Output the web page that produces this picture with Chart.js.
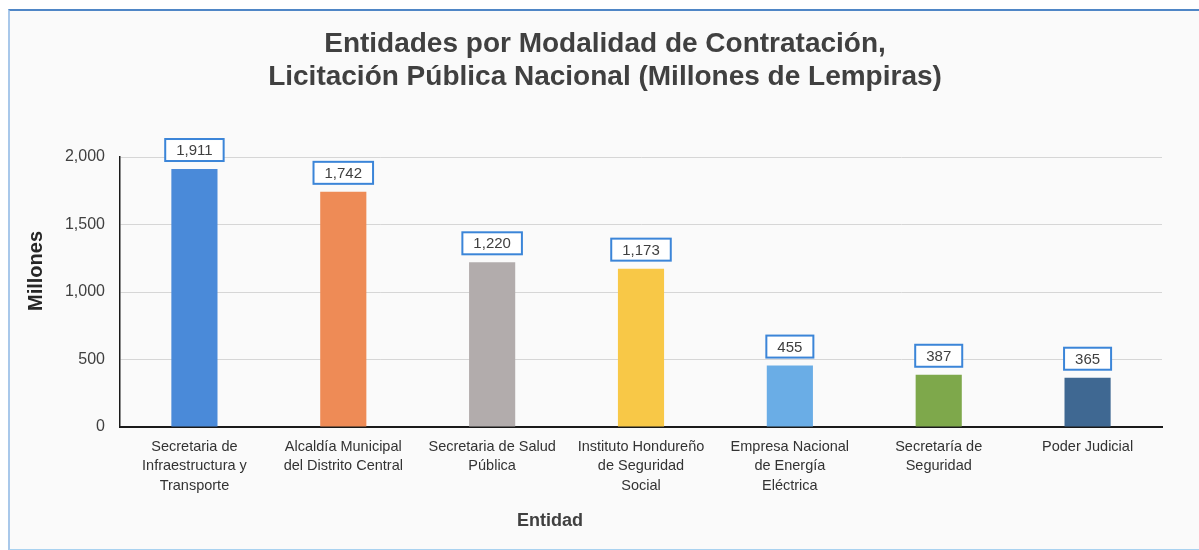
<!DOCTYPE html>
<html>
<head>
<meta charset="utf-8">
<script src="https://cdn.jsdelivr.net/npm/chart.js@4"></script>
<style>
  html, body { margin: 0; padding: 0; background: #ffffff; overflow: hidden; }
  #wrap { position: relative; width: 1199px; height: 550px; }
  #frame {
    position: absolute; left: 8px; top: 9px; width: 1200px; height: 538px;
    background: #fafafa;
    border-top: 2px solid #4f86c6;
    border-left: 2px solid #a9c8ea;
    border-bottom: 2px solid #a9d2f0;
  }
  #chart { position: absolute; left: 0; top: 0; }
</style>
</head>
<body>
<div id="wrap">
  <div id="frame"></div>
  <canvas id="chart" width="1199" height="550"></canvas>
</div>
<script>
  // datos
  const entidades = [
    ["Secretaria de", "Infraestructura y", "Transporte"],
    ["Alcaldía Municipal", "del Distrito Central"],
    ["Secretaria de Salud", "Pública"],
    ["Instituto Hondureño", "de Seguridad", "Social"],
    ["Empresa Nacional", "de Energía", "Eléctrica"],
    ["Secretaría de", "Seguridad"],
    ["Poder Judicial"]
  ];
  const montos = [1911, 1742, 1220, 1173, 455, 387, 365];
  const colores = ["#4a8ad9", "#ee8b56", "#b2acac", "#f8c847", "#6aade6", "#7ea84b", "#3f6892"];
  const tituloLineas = [
    "Entidades por Modalidad de Contratación,",
    "Licitación Pública Nacional (Millones de Lempiras)"
  ];
  const tituloX = "Entidad";
  const tituloY = "Millones";

  const FONT = "'Liberation Sans', Arial, sans-serif";
  const fmt = v => v.toLocaleString("en-US");

  // títulos dibujados a mano: el original no está centrado en el área del gráfico
  const titulos = {
    id: "titulos",
    afterDraw(chart) {
      const ctx = chart.ctx;
      ctx.save();
      ctx.fillStyle = "#404040";
      ctx.textAlign = "center";
      ctx.textBaseline = "middle";

      ctx.font = "bold 28px " + FONT;
      ctx.fillText(tituloLineas[0], 605, 44);
      ctx.fillText(tituloLineas[1], 605, 77);

      ctx.font = "bold 18px " + FONT;
      ctx.fillText(tituloX, 550, 521);

      ctx.save();
      ctx.translate(36, 271);
      ctx.rotate(-Math.PI / 2);
      ctx.fillStyle = "#262626";
      ctx.font = "bold 20px " + FONT;
      ctx.fillText(tituloY, 0, 0);
      ctx.restore();

      ctx.restore();
    }
  };

  // etiquetas con recuadro azul encima de cada barra
  const etiquetas = {
    id: "etiquetas",
    afterDatasetsDraw(chart) {
      const ctx = chart.ctx;
      const meta = chart.getDatasetMeta(0);
      ctx.save();
      ctx.font = "15px " + FONT;
      ctx.textAlign = "center";
      ctx.textBaseline = "middle";
      meta.data.forEach((bar, i) => {
        const txt = fmt(montos[i]);
        const w = ctx.measureText(txt).width + 22;
        const h = 22;
        const bottom = bar.y - 8;
        ctx.fillStyle = "#ffffff";
        ctx.fillRect(bar.x - w / 2, bottom - h, w, h);
        ctx.strokeStyle = "#3b85d8";
        ctx.lineWidth = 2;
        ctx.strokeRect(bar.x - w / 2, bottom - h, w, h);
        ctx.fillStyle = "#404040";
        ctx.fillText(txt, bar.x, bottom - h / 2 + 1);
      });
      ctx.restore();
    }
  };

  new Chart(document.getElementById("chart"), {
    type: "bar",
    data: {
      labels: entidades,
      datasets: [{
        data: montos,
        backgroundColor: colores,
        borderWidth: 0,
        barPercentage: 0.31,
        categoryPercentage: 1
      }]
    },
    options: {
      responsive: false,
      animation: false,
      layout: { padding: { left: 20, right: 37, top: 157, bottom: 0 } },
      plugins: {
        legend: { display: false },
        tooltip: { enabled: false }
      },
      scales: {
        x: {
          grid: { display: false, drawTicks: false },
          border: { display: true, color: "#1a1a1a", width: 2 },
          ticks: {
            color: "#333333",
            font: { family: FONT, size: 14.5, lineHeight: 1.34 },
            padding: 10,
            maxRotation: 0,
            autoSkip: false
          },
          afterFit(s) { s.height = 123; }
        },
        y: {
          min: 0,
          max: 2000,
          grid: {
            drawTicks: false,
            color: ctx => ctx.tick.value === 0 ? "rgba(0,0,0,0)" : "#d6d6d6",
            lineWidth: 1
          },
          border: { display: true, color: "#1a1a1a", width: 1.5 },
          ticks: {
            stepSize: 500,
            color: "#404040",
            font: { family: FONT, size: 16 },
            padding: 15,
            callback: v => fmt(v)
          },
          afterFit(s) { s.width = 100; }
        }
      }
    },
    plugins: [titulos, etiquetas]
  });
</script>
</body>
</html>
